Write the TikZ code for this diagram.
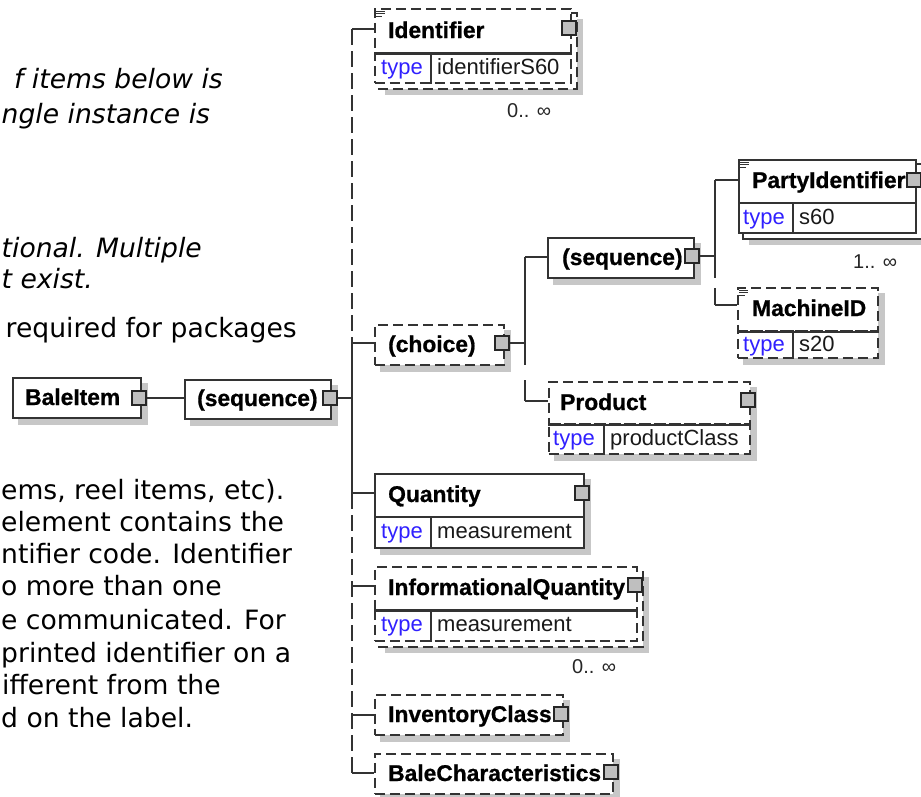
\documentclass[tikz,border=0pt]{standalone}
\usepackage{fontspec}
\setmainfont{Liberation Sans}
\newfontfamily\arialf{Liberation Sans}
\newfontfamily\arialbf{Liberation Sans Bold}[FakeBold=0.8]
\newfontfamily\verdf{DejaVu Sans}[ItalicFont={DejaVu Sans Oblique}]
\definecolor{typeblue}{RGB}{48,32,255}
\pgfdeclarelayer{bglayer}
\pgfdeclarelayer{shadowlayer}
\pgfdeclarelayer{backlayer}
\pgfsetlayers{bglayer,shadowlayer,backlayer,main}
\newcommand{\xLbl}{\arialbf\fontsize{22.8}{27}\selectfont}
\newcommand{\xTy}{\arialf\fontsize{22}{26}\selectfont}
\newcommand{\xCard}{\arialf\fontsize{20}{23}\selectfont}
\newcommand{\xDesc}{\verdf\fontsize{26.6}{31}\selectfont}
\newcommand{\xShadow}[3]{%
  \begin{pgfonlayer}{shadowlayer}
  \fill[shd] ([xshift=#3pt,yshift=-#3pt]#1.north west) rectangle ([xshift=#3pt,yshift=-#3pt]#2.south east);
  \end{pgfonlayer}}
\newcommand{\xBack}[3]{%
  \begin{pgfonlayer}{backlayer}
  \draw[ln, fill=white, #3] ([xshift=5pt,yshift=-5pt]#1.north west) rectangle ([xshift=5pt,yshift=-5pt]#2.south east);
  \end{pgfonlayer}}
\newcommand{\xDoc}[1]{%
  \draw[doc] ([xshift=2pt,yshift=-3pt]#1.north west) -- +(9,0)
             ([xshift=2pt,yshift=-5.5pt]#1.north west) -- +(9,0)
             ([xshift=2pt,yshift=-8pt]#1.north west) -- +(6,0);}
\newcommand{\xSep}[2]{\draw[ln] ([xshift=#2pt]#1.north west) -- ([xshift=#2pt]#1.south west);}
\tikzset{
  ln/.style={draw=black!80, line width=1.8pt},
  hd/.style={ln, fill=white, rectangle, inner sep=0pt, anchor=north west},
  opt/.style={dash pattern=on 10pt off 5pt},
  lbl/.style={font=\xLbl, anchor=base west, inner sep=0pt, text=black},
  tyk/.style={font=\xTy, anchor=base west, inner sep=0pt, text=typeblue},
  tyv/.style={font=\xTy, anchor=base west, inner sep=0pt, text=black!90},
  card/.style={font=\xCard, anchor=base west, inner sep=0pt, text=black!85},
  btn/.style={draw=black!85, fill=black!25, line width=1.5pt, minimum size=14pt, inner sep=0pt, rectangle},
  shd/.style={fill=black!22},
  desc/.style={font=\xDesc, anchor=base west, inner sep=0pt},
  desci/.style={font=\xDesc\itshape, anchor=base west, inner sep=0pt},
  trunk/.style={ln, dash pattern=on 16pt off 6pt},
  doc/.style={draw=black!80, line width=0.8pt},
}
\begin{document}
\begin{tikzpicture}[x=1pt,y=-1pt]
\useasboundingbox (0,0) rectangle (921,796);
\begin{pgfonlayer}{bglayer}
\fill[white] (0,0) rectangle (921,796);
\end{pgfonlayer}

% description text
\node[desci, anchor=base east] (d1) at (223,88) {f items below is};
\node[desci] (d2) at (1.5,123) {ngle instance is};
\node[desci] (d3) at (1.5,257) {tional. Multiple};
\node[desci] (d4) at (1.5,288) {t exist.};
\node[desc, anchor=base east] (d5) at (297,337) {required for packages};
\node[desc] (d6) at (1,499) {ems, reel items, etc).};
\node[desc] (d7) at (1,531) {element contains the};
\node[desc] (d8) at (1,563) {ntifier code. Identifier};
\node[desc] (d9) at (1,595) {o more than one};
\node[desc] (d10) at (1,629) {e communicated. For};
\node[desc] (d11) at (1,662) {printed identifier on a};
\node[desc] (d12) at (2,694) {ifferent from the};
\node[desc] (d13) at (1,727) {d on the label.};

% BaleItem
\node[hd, minimum width=128pt, minimum height=40pt] (bale) at (12,377) {};
\node[lbl] (bale-l) at (25,405) {BaleItem};
\xShadow{bale}{bale}{6}

% sequence (main)
\node[hd, minimum width=146pt, minimum height=39pt] (seqa) at (184,379) {};
\node[lbl] (seqa-l) at (197,406) {(sequence)};
\xShadow{seqa}{seqa}{6}

% Identifier
\node[hd, opt, minimum width=196pt, minimum height=44pt] (idf) at (374,8) {};
\node[hd, opt, minimum width=196pt, minimum height=30pt] (idf-r) at (374,52) {};
\draw[ln] (idf.south west) -- (idf.south east);
\xSep{idf-r}{57}
\node[lbl] (idf-l) at (388,38) {Identifier};
\node[tyk] (idf-k) at (381,74) {type};
\node[tyv] (idf-v) at (437,74) {identifierS60};
\xDoc{idf}
\xBack{idf}{idf-r}{opt}
\xShadow{idf}{idf-r}{11}
\node[card] (idf-c) at (507,117) {0.. ∞};

% choice
\node[hd, opt, minimum width=129pt, minimum height=40pt] (chc) at (374,324) {};
\node[lbl] (chc-l) at (388,352) {(choice)};
\xShadow{chc}{chc}{6}

% sequence (inner)
\node[hd, minimum width=146pt, minimum height=40pt] (seqb) at (547,237) {};
\node[lbl] (seqb-l) at (562,265) {(sequence)};
\xShadow{seqb}{seqb}{6}

% PartyIdentifier
\node[hd, minimum width=177pt, minimum height=43pt] (pty) at (738,159) {};
\node[hd, minimum width=177pt, minimum height=30pt] (pty-r) at (738,202) {};
\xSep{pty-r}{55}
\node[lbl] (pty-l) at (752,188) {PartyIdentifier};
\node[tyk] (pty-k) at (743,224) {type};
\node[tyv] (pty-v) at (799,224) {s60};
\xDoc{pty}
\xBack{pty}{pty-r}{}
\xShadow{pty}{pty-r}{11}
\node[card] (pty-c) at (853,268) {1.. ∞};

% MachineID
\node[hd, opt, minimum width=140pt, minimum height=43pt] (mid) at (737,287) {};
\node[hd, opt, minimum width=140pt, minimum height=27pt] (mid-r) at (737,330) {};
\draw[ln] (mid.south west) -- (mid.south east);
\xSep{mid-r}{56}
\node[lbl] (mid-l) at (752,316) {MachineID};
\node[tyk] (mid-k) at (743,351) {type};
\node[tyv] (mid-v) at (799,351) {s20};
\xDoc{mid}
\xShadow{mid}{mid-r}{6}

% Product
\node[hd, opt, minimum width=201pt, minimum height=42pt] (prd) at (548,381) {};
\node[hd, opt, minimum width=201pt, minimum height=30pt] (prd-r) at (548,423) {};
\draw[ln] (prd.south west) -- (prd.south east);
\xSep{prd-r}{56}
\node[lbl] (prd-l) at (560,410) {Product};
\node[tyk] (prd-k) at (553,445) {type};
\node[tyv] (prd-v) at (610,445) {productClass};
\xShadow{prd}{prd-r}{6}

% Quantity
\node[hd, minimum width=209pt, minimum height=43pt] (qty) at (374,473) {};
\node[hd, minimum width=209pt, minimum height=31pt] (qty-r) at (374,516) {};
\xSep{qty-r}{57}
\node[lbl] (qty-l) at (388,502) {Quantity};
\node[tyk] (qty-k) at (381,538) {type};
\node[tyv] (qty-v) at (437,538) {measurement};
\xShadow{qty}{qty-r}{6}

% InformationalQuantity
\node[hd, opt, minimum width=262pt, minimum height=43pt] (ifq) at (374,566) {};
\node[hd, opt, minimum width=262pt, minimum height=31pt] (ifq-r) at (374,609) {};
\draw[ln] (ifq.south west) -- (ifq.south east);
\xSep{ifq-r}{57}
\node[lbl] (ifq-l) at (388,595) {InformationalQuantity};
\node[tyk] (ifq-k) at (381,631) {type};
\node[tyv] (ifq-v) at (437,631) {measurement};
\xBack{ifq}{ifq-r}{opt}
\xShadow{ifq}{ifq-r}{11}
\node[card] (ifq-c) at (572,673) {0.. ∞};

% InventoryClass
\node[hd, opt, minimum width=188pt, minimum height=40pt] (inv) at (374,694) {};
\node[lbl] (inv-l) at (388,722) {InventoryClass};
\xShadow{inv}{inv}{6}

% BaleCharacteristics
\node[hd, opt, minimum width=238pt, minimum height=40pt] (bch) at (374,753) {};
\node[lbl] (bch-l) at (388,781) {BaleCharacteristics};
\xShadow{bch}{bch}{6}

% expand buttons
\node[btn] (bale-b) at (139,398) {};
\node[btn] (seqa-b) at (330,398) {};
\node[btn] (idf-b) at (569,28) {};
\node[btn] (chc-b) at (502,343) {};
\node[btn] (seqb-b) at (692,256) {};
\node[btn] (pty-b) at (914,180) {};
\node[btn] (prd-b) at (748,400) {};
\node[btn] (qty-b) at (582,493) {};
\node[btn] (ifq-b) at (635,585) {};
\node[btn] (inv-b) at (561,714) {};
\node[btn] (bch-b) at (611,772) {};

% trunk coordinates
\coordinate (tr-idf) at (352,29);
\coordinate (tr-chc) at (352,343);
\coordinate (tr-seq) at (352,398);
\coordinate (tr-qty) at (352,493);
\coordinate (tr-ifq) at (352,586);
\coordinate (tr-inv) at (352,715);
\coordinate (tr-bch) at (352,773);
\coordinate (ch-top) at (525,257);
\coordinate (ch-mid) at (525,343);
\coordinate (ch-bot) at (525,401);
\coordinate (sq-top) at (715,180);
\coordinate (sq-mid) at (715,256);
\coordinate (sq-bot) at (715,305);

% connectors
\draw[ln] (bale-b.east) -- (bale-b.east -| seqa.west);
\draw[ln] (seqa-b.east) -- (tr-seq);
\draw[trunk] (tr-idf) -- (tr-chc);
\draw[ln] (tr-chc) -- (tr-qty);
\draw[trunk] (tr-qty) -- (tr-bch);
\foreach \n in {idf,chc,qty,ifq,inv,bch} \draw[ln] (tr-\n) -- (tr-\n -| \n.west);
\draw[ln] (chc-b.east) -- (ch-mid);
\draw[ln] (ch-top) -- (ch-mid);
\draw[ln, dash pattern=on 22pt off 15pt] (ch-mid) -- (ch-bot);
\draw[ln] (ch-top) -- (ch-top -| seqb.west);
\draw[ln] (ch-bot) -- (ch-bot -| prd.west);
\draw[ln] (seqb-b.east) -- (sq-mid);
\draw[ln] (sq-top) -- (sq-mid);
\draw[ln, dash pattern=on 22pt off 10pt] (sq-mid) -- (sq-bot);
\draw[ln] (sq-top) -- (sq-top -| pty.west);
\draw[ln] (sq-bot) -- (sq-bot -| mid.west);
\end{tikzpicture}
\end{document}
